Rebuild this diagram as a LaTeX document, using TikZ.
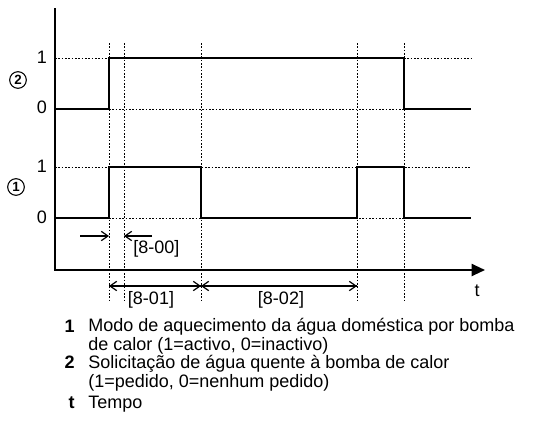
\documentclass[tikz,border=0pt]{standalone}
\usepackage{fontspec}
\setmainfont{Liberation Sans}
\usetikzlibrary{arrows.meta}

\begin{document}
\begin{tikzpicture}[x=0.75pt, y=-0.75pt,
      axis/.style={line width=1.5pt},
      signal/.style={line width=1.1pt},
      guide/.style={dash pattern=on 1.2pt off 1.3pt, line width=0.75pt},
      dim/.style={line width=0.9pt},
      barb/.style={-{Straight Barb[length=5pt, width=7pt]}},
      lvl/.style={font=\fontsize{13.5}{15}\selectfont, inner sep=0pt},
      sigtag/.style={circle, draw, line width=0.8pt, inner sep=0pt,
                     minimum size=12.5pt, font=\fontsize{10}{10}\selectfont\bfseries},
      legkey/.style={anchor=base east, inner sep=0pt,
                     font=\fontsize{13.5}{15}\selectfont\bfseries},
      legtext/.style={anchor=base west, inner sep=0pt, align=left,
                      font=\fontsize{13.5}{13.7}\selectfont}]
    \useasboundingbox (0,0) rectangle (533,426);

    % time marks
    \coordinate (origin) at (55,270);
    \coordinate (ytop) at (55,8);
    \coordinate (xend) at (485,270);

    % dotted guides
    \foreach \x in {109,124,201,357,404}
      \draw[guide] (\x,43) -- (\x,302);
    \draw[guide] (55,58) -- (109,58);
    \draw[guide] (404,58) -- (471,58);
    \draw[guide] (109,109) -- (404,109);
    \draw[guide] (55,167) -- (471,167);
    \draw[guide] (109,218) -- (404,218);

    % axes
    \draw[axis, -{Triangle[length=10pt, width=9pt]}] (ytop) -- (origin) -- (xend);

    % signals
    \draw[signal] (55,109) -- (109,109) -- (109,58) -- (404,58) -- (404,109) -- (471,109);
    \draw[signal] (55,218) -- (109,218) -- (109,167) -- (201,167) -- (201,218)
      -- (357,218) -- (357,167) -- (404,167) -- (404,218) -- (471,218);

    % level labels
    \node[lvl] (hi2) at (42,57) {1};
    \node[lvl] (lo2) at (42,107) {0};
    \node[lvl] (hi1) at (42,166) {1};
    \node[lvl] (lo1) at (42,217) {0};
    \node[sigtag] (tag2) at (18,80) {2};
    \node[sigtag] (tag1) at (16,187) {1};
    \node[lvl] (tlabel) at (477,291) {t};

    % delays
    \coordinate (a0) at (80,236);
    \coordinate (a1) at (109,236);
    \coordinate (b0) at (152,236);
    \coordinate (b1) at (124,236);
    \coordinate (c0) at (109,286);
    \coordinate (c1) at (201,286);
    \coordinate (c2) at (357,286);
    \draw[dim, barb] (a0) -- (a1);
    \draw[dim, barb] (b0) -- (b1);
    \draw[dim, barb] (c1) -- (c0);
    \draw[dim, barb] (c0) -- (c1);
    \draw[dim, barb] (c2) -- (c1);
    \draw[dim, barb] (c1) -- (c2);
    \node[lvl, anchor=west] (t800) at (133,249) {[8-00]};
    \node[lvl] (t801) at (151,300) {[8-01]};
    \node[lvl] (t802) at (281,300) {[8-02]};

    % legend
    \node[legkey] (k1) at (75,332) {1};
    \node[legtext] (l1) at (88,350) {Modo de aquecimento da água doméstica por bomba\\de calor (1=activo, 0=inactivo)};
    \node[legkey] (k2) at (75,368) {2};
    \node[legtext] (l2) at (88,387) {Solicitação de água quente à bomba de calor\\(1=pedido, 0=nenhum pedido)};
    \node[legkey] (kt) at (75,408) {t};
    \node[legtext] (lt) at (88,408) {Tempo};
  \end{tikzpicture}
\end{document}
